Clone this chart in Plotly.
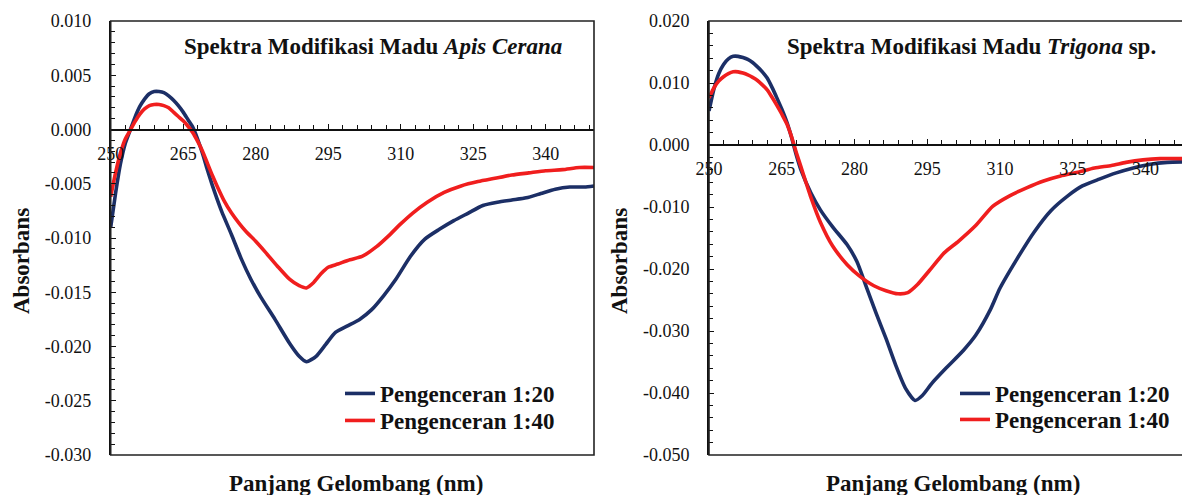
import plotly.graph_objects as go

# ---------------- data ----------------
# Left panel: Apis Cerana
wl_ac_20 = [250, 251, 252, 253, 254, 255, 256, 257, 258, 259, 260, 261, 262, 263, 264, 265, 266, 267, 268, 269,
            270, 271, 272, 273, 275, 277, 279, 281, 284, 287, 289, 290.5, 292.5, 294.5, 296.5, 299, 301.5, 304,
            306.5, 309, 312, 315, 318, 321, 324, 327, 330, 333, 336, 339, 342, 345, 348, 350]
abs_ac_20 = [-0.0090, -0.0059, -0.0032, -0.0013, -0.0001, 0.0011, 0.0021, 0.0028, 0.0033, 0.0035, 0.0035, 0.0034,
             0.0031, 0.0027, 0.0022, 0.0016, 0.0009, 0.0002, -0.0009, -0.0022, -0.0037, -0.0051, -0.0064, -0.0076,
             -0.0097, -0.0119, -0.0138, -0.0154, -0.0175, -0.0197, -0.0209, -0.0214, -0.0209, -0.0198, -0.0187,
             -0.0181, -0.0175, -0.0166, -0.0153, -0.0138, -0.0117, -0.0101, -0.0092, -0.0084, -0.0077, -0.0070,
             -0.0067, -0.0065, -0.0063, -0.0059, -0.0055, -0.0053, -0.0053, -0.0052]

wl_ac_40 = [250, 251, 252, 253, 254, 255, 256, 257, 258, 259, 260, 261, 262, 263, 264, 265, 266, 267, 268, 269,
            270, 271, 272, 273.5, 275, 276.5, 278, 280, 282, 284.5, 287, 289, 290.5, 292, 293.5, 295, 297, 299.5,
            302, 305, 307.5, 310, 312.5, 315.5, 319, 322.5, 326, 329.5, 333, 336.5, 340, 343.5, 347, 350]
abs_ac_40 = [-0.0062, -0.0040, -0.0022, -0.0009, -0.0001, 0.0007, 0.0014, 0.0019, 0.0022, 0.0023, 0.0023, 0.0022,
             0.0020, 0.0016, 0.0012, 0.0008, 0.0003, -0.0003, -0.0011, -0.0020, -0.0031, -0.0042, -0.0052,
             -0.0066, -0.0077, -0.0086, -0.0094, -0.0103, -0.0113, -0.0126, -0.0138, -0.0144, -0.0146, -0.0141,
             -0.0133, -0.0127, -0.0124, -0.0120, -0.0117, -0.0108, -0.0098, -0.0087, -0.0077, -0.0067, -0.0058,
             -0.0052, -0.0048, -0.0045, -0.0042, -0.0040, -0.0038, -0.0037, -0.0035, -0.0035]

# Right panel: Trigona sp.
wl_tr_20 = [250, 251, 252, 253, 254, 255, 256, 257, 258, 259, 260, 261, 262, 263, 264, 265, 266, 267, 268, 269,
            271, 273, 275.5, 278.5, 280.5, 282.5, 284.5, 286.5, 288.5, 290.5, 292.5, 294, 296, 299, 302.5, 305,
            308, 310, 313.5, 317, 320.5, 324, 327, 330.5, 334, 337.5, 341, 344.5, 349.2]
abs_tr_20 = [0.0055, 0.0090, 0.0115, 0.0130, 0.0139, 0.0143, 0.0143, 0.0141, 0.0138, 0.0133, 0.0126, 0.0118,
             0.0108, 0.0093, 0.0076, 0.0058, 0.0038, 0.0013, -0.0016, -0.0041, -0.0077, -0.0105, -0.0132, -0.0161,
             -0.0188, -0.0230, -0.0272, -0.0312, -0.0355, -0.0392, -0.0412, -0.0404, -0.0384, -0.0359, -0.0331,
             -0.0307, -0.0266, -0.0231, -0.0184, -0.0141, -0.0106, -0.0082, -0.0066, -0.0055, -0.0045, -0.0037,
             -0.0031, -0.0028, -0.0027]

wl_tr_40 = [250, 251, 252, 253, 254, 255, 256, 257, 258, 259, 260, 261, 262, 263, 264, 265, 266, 267, 268, 269,
            271, 273, 275.5, 278.5, 281, 284, 286.5, 289, 291, 293, 295.5, 298.5, 301.5, 305, 308.5, 312, 315.5,
            319, 322.5, 326, 329.5, 333, 336, 339.5, 343, 349.2]
abs_tr_40 = [0.0076, 0.0092, 0.0103, 0.0110, 0.0115, 0.0118, 0.0118, 0.0116, 0.0113, 0.0109, 0.0104, 0.0097,
             0.0089, 0.0077, 0.0064, 0.0050, 0.0035, 0.0014, -0.0012, -0.0036, -0.0084, -0.0125, -0.0163, -0.0193,
             -0.0211, -0.0227, -0.0235, -0.0240, -0.0238, -0.0225, -0.0202, -0.0174, -0.0155, -0.0130, -0.0099,
             -0.0082, -0.0069, -0.0058, -0.0050, -0.0044, -0.0037, -0.0033, -0.0028, -0.0024, -0.0022, -0.0022]

series_names = ["Pengenceran 1:20", "Pengenceran 1:40"]
panel_titles = ["<b>Spektra Modifikasi Madu <i>Apis Cerana</i></b>",
                "<b>Spektra Modifikasi Madu <i>Trigona</i> sp.</b>"]
x_title = "Panjang Gelombang (nm)"
y_title = "Absorbans"

x_tickvals = [250, 265, 280, 295, 310, 325, 340]
x_ticktext = ["250", "265", "280", "295", "310", "325", "340"]
y_left_vals = [0.010, 0.005, 0.000, -0.005, -0.010, -0.015, -0.020, -0.025, -0.030]
y_left_text = ["0.010", "0.005", "0.000", "-0.005", "-0.010", "-0.015", "-0.020", "-0.025", "-0.030"]
y_right_vals = [0.020, 0.010, 0.000, -0.010, -0.020, -0.030, -0.040, -0.050]
y_right_text = ["0.020", "0.010", "0.000", "-0.010", "-0.020", "-0.030", "-0.040", "-0.050"]

# ---------------- style ----------------
BLUE = "#1C2F66"
RED = "#F01E1E"
SERIF = "Liberation Serif, Times New Roman, serif"
PAGE_W, PAGE_H = 1190, 495
OFF = 8  # default page body margin
W, H = PAGE_W - OFF, PAGE_H - OFF

def px_x(p):
    return (p - OFF) / W

def px_y(p):
    return 1 - (p - OFF) / H

yd = [px_y(455), px_y(21)]
xd_left = [px_x(110.7), px_x(594)]
xd_right = [px_x(709), 1.0]

y_left_range = [-0.030, 0.010]
y_right_range = [-0.050, 0.020]

def zero_pos(rng):
    frac = (0 - rng[0]) / (rng[1] - rng[0])
    return yd[0] + frac * (yd[1] - yd[0])

fig = go.Figure()
line_style = dict(width=3.6, shape="spline", smoothing=0.6)

fig.add_trace(go.Scatter(x=wl_ac_20, y=abs_ac_20, mode="lines", name=series_names[0],
                         line=dict(color=BLUE, **line_style), xaxis="x", yaxis="y", legend="legend"))
fig.add_trace(go.Scatter(x=wl_ac_40, y=abs_ac_40, mode="lines", name=series_names[1],
                         line=dict(color=RED, **line_style), xaxis="x", yaxis="y", legend="legend2"))
fig.add_trace(go.Scatter(x=wl_tr_20, y=abs_tr_20, mode="lines", name=series_names[0],
                         line=dict(color=BLUE, **line_style), xaxis="x2", yaxis="y2", legend="legend3"))
fig.add_trace(go.Scatter(x=wl_tr_40, y=abs_tr_40, mode="lines", name=series_names[1],
                         line=dict(color=RED, **line_style), xaxis="x2", yaxis="y2", legend="legend4"))

tickfont = dict(family=SERIF, size=18, color="#111")

def xaxis_cfg(domain, rng, pos):
    return dict(domain=domain, range=rng, anchor="free", position=pos,
                showline=True, linecolor="#111", linewidth=1.6,
                ticks="inside", ticklen=5, tickwidth=1.2, tickcolor="#111",
                tickmode="array", tickvals=x_tickvals, ticktext=x_ticktext,
                minor=dict(tick0=250, dtick=3, ticks="inside", ticklen=4, tickwidth=1.1, tickcolor="#111"),
                tickfont=tickfont, ticklabelstandoff=8, automargin=False,
                showgrid=False, zeroline=False, fixedrange=True)

def yaxis_cfg(domain, rng, anchor, vals, texts, mdt):
    return dict(domain=domain, range=rng, anchor=anchor,
                showline=True, linecolor="#111", linewidth=1.6,
                ticks="inside", ticklen=5, tickwidth=1.2, tickcolor="#111",
                tickmode="array", tickvals=vals, ticktext=texts,
                minor=dict(tick0=0, dtick=mdt, ticks="inside", ticklen=4, tickwidth=1.1, tickcolor="#111"),
                tickfont=tickfont, ticklabelstandoff=14, automargin=False,
                showgrid=False, zeroline=False, fixedrange=True)

legend_font = dict(family=SERIF, size=23, color="#111", weight="bold")

def legend_cfg(xp, yp):
    return dict(x=px_x(xp), y=px_y(yp), xanchor="left", yanchor="top",
                font=legend_font, bgcolor="rgba(0,0,0,0)", tracegroupgap=0, itemwidth=30)

fig.update_layout(
    width=W, height=H,
    margin=dict(l=0, r=0, t=0, b=0, autoexpand=False),
    paper_bgcolor="white", plot_bgcolor="white",
    xaxis=xaxis_cfg(xd_left, [250, 350], zero_pos(y_left_range)),
    yaxis=yaxis_cfg(yd, y_left_range, "x", y_left_vals, y_left_text, 0.001),
    xaxis2=xaxis_cfg(xd_right, [250, 349.2], zero_pos(y_right_range)),
    yaxis2=yaxis_cfg(yd, y_right_range, "x2", y_right_vals, y_right_text, 0.002),
    legend=legend_cfg(340, 372),
    legend2=legend_cfg(340, 399),
    legend3=legend_cfg(955, 372),
    legend4=legend_cfg(955, 398),
    showlegend=True,
)

shapes = []
for xr, yr in (("x domain", "y domain"), ("x2 domain", "y2 domain")):
    shapes.append(dict(type="rect", xref=xr, yref=yr, x0=0, x1=1, y0=0, y1=1,
                       line=dict(color="#222", width=1.6), layer="above"))
fig.update_layout(shapes=shapes)

title_font = dict(family=SERIF, size=23, color="#111")
ann = [
    dict(text=panel_titles[0], x=px_x(373), y=px_y(46), xref="paper", yref="paper",
         showarrow=False, font=title_font, xanchor="center", yanchor="middle"),
    dict(text=panel_titles[1], x=px_x(971), y=px_y(46), xref="paper", yref="paper",
         showarrow=False, font=title_font, xanchor="center", yanchor="middle"),
    dict(text="<b>" + x_title + "</b>", x=px_x(356), y=px_y(483), xref="paper", yref="paper",
         showarrow=False, font=title_font, xanchor="center", yanchor="middle"),
    dict(text="<b>" + x_title + "</b>", x=px_x(953), y=px_y(483), xref="paper", yref="paper",
         showarrow=False, font=title_font, xanchor="center", yanchor="middle"),
    dict(text="<b>" + y_title + "</b>", x=px_x(21), y=px_y(261), xref="paper", yref="paper",
         showarrow=False, font=title_font, textangle=-90, xanchor="center", yanchor="middle"),
    dict(text="<b>" + y_title + "</b>", x=px_x(619), y=px_y(261), xref="paper", yref="paper",
         showarrow=False, font=title_font, textangle=-90, xanchor="center", yanchor="middle"),
]
fig.update_layout(annotations=ann)

fig.write_html("out.html", config={"displayModeBar": False})
